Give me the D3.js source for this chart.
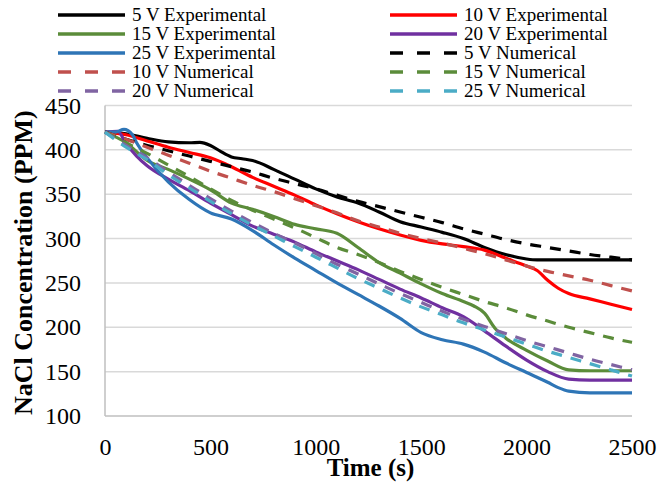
<!DOCTYPE html>
<html>
<head>
<meta charset="utf-8">
<script src="https://cdn.jsdelivr.net/npm/d3@7"></script>
<style>
  body { margin: 0; background: #fff; }
  svg { display: block; font-family: "Liberation Serif", "Times New Roman", serif; }
</style>
</head>
<body>
<div class="chart"></div>
<script>
// time grid used by the numerical series
const timeGrid = [0, 100, 200, 300, 400, 500, 600, 700, 800, 900, 1000, 1100, 1200,
  1300, 1400, 1500, 1600, 1700, 1800, 1900, 2000, 2100, 2200, 2300, 2400, 2500];

const num5 = [420, 412, 405, 399, 393, 387, 381, 375, 368, 362, 356, 349, 342,
  336, 330, 324, 318, 311, 305, 299, 294, 290, 286, 282, 279, 276];
const num10 = [420, 412, 403, 394, 385, 376, 368, 360, 353, 345, 337, 329, 320,
  313, 306, 300, 295, 289, 283, 276, 269, 263, 258, 253, 247, 241];
const num15 = [420, 408, 396, 383, 370, 356, 343, 332, 322, 312, 301, 290, 282,
  273, 263, 254, 245, 237, 229, 222, 214, 207, 200, 194, 188, 183];
const num20 = [420, 405, 391, 375, 360, 345, 331, 318, 306, 295, 283, 271, 260,
  249, 238, 228, 218, 209, 201, 193, 185, 178, 171, 164, 158, 152];
const num25 = [420, 403, 389, 372, 357, 342, 328, 315, 303, 291, 279, 267, 255,
  244, 233, 223, 214, 205, 197, 189, 181, 173, 166, 159, 152, 145];

// experimental series (own time points)
const exp5T = [0, 100, 200, 300, 400, 450, 500, 550, 600, 650, 700, 800, 900, 1000, 1100,
  1200, 1300, 1400, 1500, 1600, 1700, 1800, 1900, 2000, 2050, 2100, 2200, 2300, 2400, 2500];
const exp5V = [420, 418, 413, 409, 408, 408.5, 405, 398, 392, 390, 388, 378, 367, 356, 347,
  340, 330, 319, 313, 307, 300, 290, 282, 277, 276, 276, 276, 276, 276, 276];

const exp10T = [0, 100, 200, 300, 400, 500, 600, 700, 800, 900, 1000, 1100, 1200, 1300,
  1400, 1500, 1600, 1700, 1800, 1900, 2000, 2050, 2100, 2150, 2200, 2300, 2400, 2500];
const exp10V = [420, 417, 410, 403, 397, 391, 381, 369, 359, 349, 338, 328, 319, 311,
  304, 298, 294, 291, 287, 278, 269, 264, 253, 244, 238, 232, 226, 220];

const exp15T = [0, 100, 200, 300, 400, 500, 600, 700, 800, 900, 1000, 1100, 1200, 1300,
  1400, 1500, 1600, 1700, 1750, 1800, 1850, 1900, 2000, 2100, 2200, 2300, 2400, 2500];
const exp15V = [420, 408, 388, 378, 367, 355, 340, 333, 325, 316, 311, 306, 290, 273,
  261, 249, 238, 229, 224, 216, 199, 188, 174, 162, 152, 151, 151, 151];

const exp20T = [0, 60, 100, 150, 200, 300, 400, 500, 600, 700, 800, 900, 1000, 1100,
  1200, 1300, 1400, 1500, 1600, 1700, 1800, 1900, 2000, 2100, 2200, 2300, 2400, 2500];
const exp20V = [420, 421, 407, 393, 382, 367, 354, 340, 327, 314, 305, 296, 285, 275,
  265, 254, 243, 233, 222, 212, 196, 179, 163, 150, 141.5, 140.5, 140.5, 140.5];

const exp25T = [0, 50, 90, 130, 150, 200, 300, 400, 500, 600, 700, 800, 900, 1000, 1100,
  1200, 1300, 1400, 1500, 1600, 1700, 1800, 1900, 2000, 2100, 2150, 2200, 2300, 2400, 2500];
const exp25V = [420, 420, 423, 417, 408, 391, 364, 344, 329, 322, 309, 293, 278, 264, 250,
  237, 224, 210, 194, 186, 181, 172, 160, 149, 138, 132, 128, 126, 126, 126];

const yTicks = [100, 150, 200, 250, 300, 350, 400, 450];
const xTicks = [0, 500, 1000, 1500, 2000, 2500];

const series = [
  { name: "5 V Experimental", t: exp5T, v: exp5V, color: "#000000", dash: null },
  { name: "10 V Experimental", t: exp10T, v: exp10V, color: "#ff0000", dash: null },
  { name: "15 V Experimental", t: exp15T, v: exp15V, color: "#5b8c3a", dash: null },
  { name: "20 V Experimental", t: exp20T, v: exp20V, color: "#7030a0", dash: null },
  { name: "25 V Experimental", t: exp25T, v: exp25V, color: "#2e75b6", dash: null },
  { name: "5 V Numerical", t: timeGrid, v: num5, color: "#000000", dash: "11,9" },
  { name: "10 V Numerical", t: timeGrid, v: num10, color: "#c0504d", dash: "11,9" },
  { name: "15 V Numerical", t: timeGrid, v: num15, color: "#5b8c3a", dash: "11,9" },
  { name: "20 V Numerical", t: timeGrid, v: num20, color: "#8064a2", dash: "11,9" },
  { name: "25 V Numerical", t: timeGrid, v: num25, color: "#4bacc6", dash: "11,9" }
];

const width = 659;
const height = 485;
const margin = { top: 105.5, right: 27, bottom: 69, left: 105 };

const x = d3.scaleLinear()
  .domain([0, 2500])
  .range([margin.left, width - margin.right]);

const y = d3.scaleLinear()
  .domain([100, 450])
  .range([height - margin.bottom, margin.top]);

const svg = d3.select(".chart")
  .append("svg")
  .attr("width", width)
  .attr("height", height);

// gridlines
svg.append("g")
  .selectAll("line")
  .data(yTicks.filter(d => d > 100))
  .enter()
  .append("line")
  .attr("x1", margin.left)
  .attr("x2", width - margin.right)
  .attr("y1", d => y(d))
  .attr("y2", d => y(d))
  .attr("stroke", "#d9d9d9")
  .attr("stroke-width", 1.5);

// axis lines
svg.append("line")
  .attr("x1", margin.left).attr("x2", width - margin.right)
  .attr("y1", y(100)).attr("y2", y(100))
  .attr("stroke", "#bfbfbf").attr("stroke-width", 1.5);
svg.append("line")
  .attr("x1", margin.left).attr("x2", margin.left)
  .attr("y1", y(100)).attr("y2", y(450))
  .attr("stroke", "#bfbfbf").attr("stroke-width", 1.5);

const yAxis = svg.append("g")
  .attr("transform", `translate(${margin.left},0)`)
  .call(d3.axisLeft(y).tickValues(yTicks).tickSize(0).tickPadding(24));
yAxis.select(".domain").remove();

const xAxis = svg.append("g")
  .attr("transform", `translate(0,${y(100)})`)
  .call(d3.axisBottom(x).tickValues(xTicks).tickSize(0).tickPadding(22).tickFormat(d3.format("d")));
xAxis.select(".domain").remove();

svg.selectAll(".tick text")
  .attr("font-family", "Liberation Serif, Times New Roman, serif")
  .attr("font-size", 24)
  .attr("fill", "#000");

// series lines
const line = d3.line()
  .x(d => x(d[0]))
  .y(d => y(d[1]))
  .curve(d3.curveMonotoneX);

svg.append("g")
  .selectAll("path")
  .data(series)
  .enter()
  .append("path")
  .attr("d", s => line(s.t.map((t, i) => [t, s.v[i]])))
  .attr("fill", "none")
  .attr("stroke", s => s.color)
  .attr("stroke-width", 3.2)
  .attr("stroke-dasharray", s => s.dash);

// axis titles
svg.append("text")
  .attr("x", (x(0) + x(2500)) / 2 + 2)
  .attr("y", 476)
  .attr("text-anchor", "middle")
  .attr("font-size", 25)
  .attr("font-weight", "bold")
  .text("Time (s)");

svg.append("text")
  .attr("transform", `translate(32,${(y(100) + y(450)) / 2 + 2}) rotate(-90)`)
  .attr("text-anchor", "middle")
  .attr("font-size", 26)
  .attr("font-weight", "bold")
  .text("NaCl Concentration (PPM)");

// legend
const legend = svg.append("g");
const legendItem = legend.selectAll("g")
  .data(series)
  .enter()
  .append("g")
  .attr("transform", (d, i) => `translate(${i % 2 === 0 ? 58 : 390},${15 + Math.floor(i / 2) * 19})`);

legendItem.append("line")
  .attr("x1", 0).attr("x2", 67)
  .attr("y1", 0).attr("y2", 0)
  .attr("stroke", d => d.color)
  .attr("stroke-width", 3.5)
  .attr("stroke-dasharray", d => d.dash ? "13,14" : null);

legendItem.append("text")
  .attr("x", 74)
  .attr("y", 0)
  .attr("dy", "0.33em")
  .attr("font-size", 19)
  .text(d => d.name);
</script>
</body>
</html>
